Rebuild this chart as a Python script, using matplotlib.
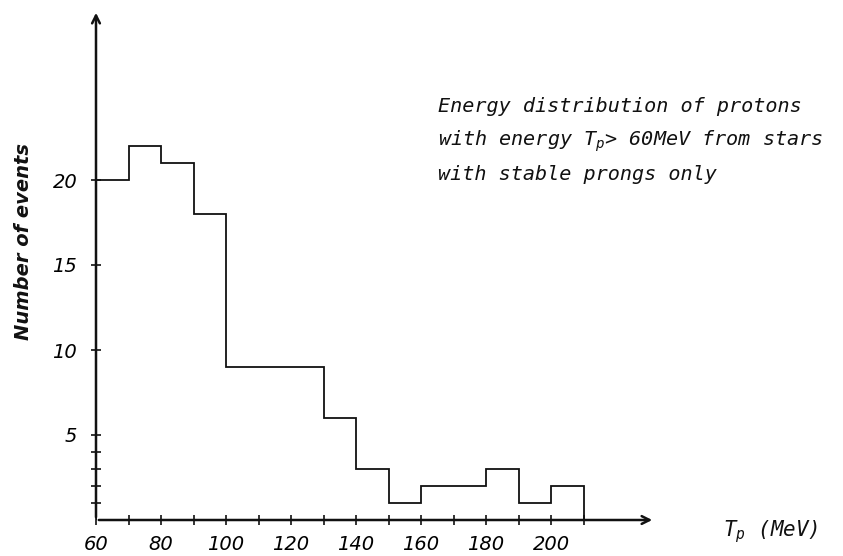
import matplotlib.pyplot as plt
import numpy as np

# bin edges (MeV) and counts
bin_edges = [60, 70, 80, 90, 100, 110, 120, 130, 140, 150, 160, 170, 180, 190, 200, 210]
counts = [20, 22, 21, 18, 9, 9, 9, 6, 3, 1, 2, 2, 3, 1, 2]

x_major = [60, 80, 100, 120, 140, 160, 180, 200]
x_minor = [70, 90, 110, 130, 150, 170, 190, 210]
y_major = [5, 10, 15, 20]
y_minor = [1, 2, 3, 4]

title_lines = ["Energy distribution of protons",
               r"with energy $T_p$> 60MeV from stars",
               "with stable prongs only"]

plt.rcParams["mathtext.fontset"] = "custom"
plt.rcParams["mathtext.it"] = "DejaVu Sans Mono:italic"
plt.rcParams["mathtext.rm"] = "DejaVu Sans Mono"

W, H = 843, 556
fig = plt.figure(figsize=(W / 100, H / 100), dpi=100)
ax = fig.add_axes([96 / W, 36 / H, (655 - 96) / W, (520 - 10) / H])

ink = "#111111"
tick_font = dict(family="DejaVu Sans", style="italic", size=14)
lettering = dict(family="DejaVu Sans Mono", style="italic", color=ink)

ax.stairs(counts, bin_edges, baseline=0, color=ink, linewidth=1.3)

ax.set_xlim(60, 232)
ax.set_ylim(0, 30)

for s in ax.spines.values():
    s.set_visible(False)

# axes drawn as arrows
ax.annotate("", xy=(1, 0), xytext=(0, 0), xycoords="axes fraction",
            arrowprops=dict(arrowstyle="->", color=ink, lw=1.8, mutation_scale=14))
ax.annotate("", xy=(0, 1), xytext=(0, 0), xycoords="axes fraction",
            arrowprops=dict(arrowstyle="->", color=ink, lw=1.8, mutation_scale=14))

ax.set_xticks(x_major)
ax.set_xticks(x_minor, minor=True)
ax.set_yticks(y_major)
ax.set_yticks(y_minor, minor=True)
ax.set_xticklabels([str(v) for v in x_major], fontdict=tick_font)
ax.set_yticklabels([str(v) for v in y_major], fontdict=tick_font)
ax.tick_params(which="both", direction="inout", length=7, width=1.2, color=ink)
ax.tick_params(axis="x", pad=7)
ax.tick_params(axis="y", pad=10)

fig.text(24 / W, 1 - 242 / H, "Number of events", rotation=90, ha="center", va="center",
         family="DejaVu Sans", style="italic", weight="bold", size=14, color=ink)

for i, line in enumerate(title_lines):
    fig.text(438 / W, 1 - (107 + i * 34) / H, line, ha="left", va="center",
             size=14.5, **lettering)

fig.text(723 / W, 1 - 532 / H, r"$T_p$ (MeV)", ha="left", va="center",
         size=15, **lettering)

fig.savefig("out.png", dpi=100, facecolor="white")
